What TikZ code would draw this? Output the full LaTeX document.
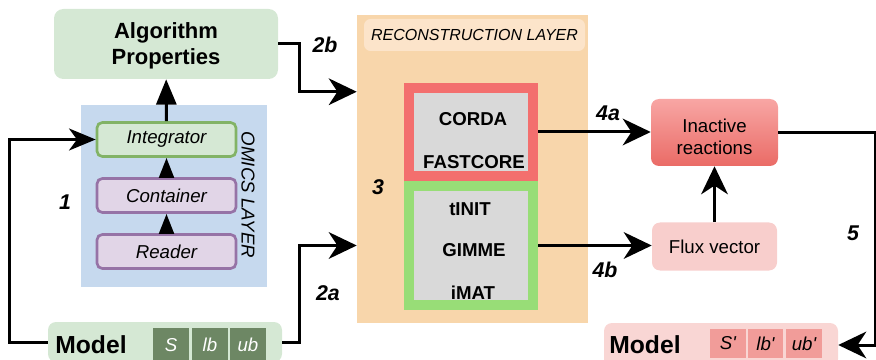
\documentclass[tikz,border=0pt]{standalone}
\usepackage{fontspec}
\setmainfont{Liberation Sans}
\usepackage{tikz}
\usetikzlibrary{arrows.meta,positioning}
\definecolor{greenfill}{HTML}{D5E8D4}
\definecolor{greenline}{HTML}{82B366}
\definecolor{purplefill}{HTML}{E1D5E7}
\definecolor{purpleline}{HTML}{9673A6}
\definecolor{omicsfill}{HTML}{C6D9EE}
\definecolor{reconfill}{HTML}{F8D6AB}
\definecolor{headfill}{HTML}{FCE4CA}
\definecolor{redline}{HTML}{F36F6E}
\definecolor{limeline}{HTML}{98DD77}
\definecolor{algogray}{HTML}{D9D9D9}
\definecolor{pinkfill}{HTML}{F8CECC}
\definecolor{pinktop}{HTML}{F8A6A4}
\definecolor{pinkbottom}{HTML}{EA6B66}
\definecolor{modelpink}{HTML}{F9D6D4}
\definecolor{cellpink}{HTML}{F19C99}
\definecolor{cellgreen}{HTML}{6D8764}
\tikzset{
	big arrow/.style = {-{Stealth[length=21pt,width=20pt,inset=6.5pt]}, line width=2.25pt},
	small arrow/.style = {-{Triangle[length=15pt,width=11pt]}, line width=2.25pt},
	stage/.style = {font=\fontsize{16}{16}\selectfont\bfseries\itshape},
	algo name/.style = {font=\fontsize{14}{16}\selectfont\bfseries}
}

\begin{document}
\begin{tikzpicture}[x=0.75pt, y=-0.75pt]
    \tikzset{omics node/.style={draw, line width=2pt, rounded corners=4pt, inner sep=0pt, minimum width=104.25pt, minimum height=25.5pt, font=\fontsize{14}{17}\selectfont\itshape}}
    \tikzset{cell/.style={inner sep=0pt, minimum width=27pt, font=\fontsize{14}{16}\selectfont\itshape}}
    \clip (0,0) rectangle (876,360);
    % Layers
    \node (omics) [fill=omicsfill, inner sep=0pt, minimum width=139.5pt, minimum height=136.5pt] at (174,196) {};
    \node (omics-title) [rotate=-90, font=\fontsize{14}{16}\selectfont\itshape] at (248,195) {OMICS LAYER};
    \node (recon) [fill=reconfill, inner sep=0pt, minimum width=173.25pt, minimum height=231pt] at (472.5,169) {};
    \node (recon-title) [fill=headfill, rounded corners=5pt, inner sep=0pt, minimum width=165.75pt, minimum height=24pt, font=\fontsize{12}{14}\selectfont\itshape] at (474.5,35) {RECONSTRUCTION LAYER};

    % Nodes
    \node (algo) [fill=greenfill, rounded corners=7pt, inner sep=0pt, minimum width=168pt, minimum height=52.5pt, align=center, font=\fontsize{16.5}{19}\selectfont\bfseries] at (166,44) {Algorithm\rule{0pt}{14.5pt}\\Properties};
    \node (integrator) [omics node, draw=greenline, fill=greenfill] at (166.5,139.5) {Integrator};
    \node (container) [omics node, draw=purpleline, fill=purplefill, below of=integrator, node distance=42pt] {Container};
    \node (reader) [omics node, draw=purpleline, fill=purplefill, below of=container, node distance=42pt] {Reader};

    \node (modelL) [fill=greenfill, rounded corners=6pt, inner sep=0pt, minimum width=175.5pt, minimum height=30pt] at (165,342) {};
    \node (modelL-text) [font=\fontsize{18.5}{20}\selectfont\bfseries] at (91,345) {Model};
    \node (s) [cell, fill=cellgreen, text=white, minimum height=25.5pt] at (171,345) {S};
    \node (lb) [cell, fill=cellgreen, text=white, minimum height=25.5pt] at (210,345) {lb};
    \node (ub) [cell, fill=cellgreen, text=white, minimum height=25.5pt] at (248,345) {ub};

    \node (redbox) [draw=redline, line width=7.5pt, fill=algogray, inner sep=0pt, minimum width=93pt, minimum height=66pt] at (471,132) {};
    \node (greenbox) [draw=limeline, line width=7.5pt, fill=algogray, inner sep=0pt, minimum width=93pt, minimum height=89.25pt] at (471,245.5) {};
    \node (corda) [algo name] at (473,119) {CORDA};
    \node (fastcore) [algo name] at (474,162) {FASTCORE};
    \node (tinit) [algo name] at (470,209) {tINIT};
    \node (gimme) [algo name] at (474,250) {GIMME};
    \node (imat) [algo name] at (473,293) {iMAT};

    \node (inactive) [top color=pinktop, bottom color=pinkbottom, rounded corners=6pt, inner sep=0pt, minimum width=95.25pt, minimum height=50.25pt, align=center, font=\fontsize{14}{16.5}\selectfont] at (714.5,132.5) {Inactive\rule{0pt}{16.5pt}\\reactions};
    \node (flux) [fill=pinkfill, rounded corners=6pt, inner sep=0pt, minimum width=93.75pt, minimum height=36pt, font=\fontsize{14}{16}\selectfont, below of=inactive, node distance=85.5pt] {Flux vector};

    \node (modelR) [fill=modelpink, rounded corners=6pt, inner sep=0pt, minimum width=175.5pt, minimum height=33pt] at (721,345) {};
    \node (modelR-text) [font=\fontsize{18.5}{20}\selectfont\bfseries] at (645,345) {Model};
    \node (s-new) [cell, fill=cellpink, minimum height=21.75pt] at (728,343.5) {S\textquotesingle};
    \node (lb-new) [cell, fill=cellpink, minimum height=21.75pt, minimum width=26.25pt] at (765.5,343.5) {lb\textquotesingle};
    \node (ub-new) [cell, fill=cellpink, minimum height=21.75pt] at (804,343.5) {ub\textquotesingle};

    % Stages
    \node (stage1) [stage] at (65,202) {1};
    \node (stage2a) [stage] at (328,293) {2a};
    \node (stage2b) [stage] at (325,45) {2b};
    \node (stage3) [stage] at (378,187) {3};
    \node (stage4a) [stage] at (608,113) {4a};
    \node (stage4b) [stage] at (605,270) {4b};
    \node (stage5) [stage] at (853,233) {5};

    % Arrows
    \draw [small arrow] (reader) to (container);
    \draw [small arrow] (container) to (integrator);
    \draw [-{Triangle[length=19pt,width=15pt]}, line width=2.25pt] (integrator) to (algo);
    \draw [big arrow, -{Stealth[length=20pt,width=16.5pt,inset=6pt]}] (modelL.west) -- ++(-38,0) |- (integrator.west);
    \draw [big arrow] (modelL.east) -- ++(17,0) |- (greenbox -| recon.west);
    \draw [big arrow] (algo.east) -- ++(21,0) |- ([yshift=-57.75pt]recon.north west);
    \draw [big arrow] (redbox.east) -- (redbox.east -| inactive.west);
    \draw [big arrow] (greenbox.east) -- (greenbox.east -| flux.west);
    \draw [big arrow] (flux) to (inactive);
    \draw [big arrow] (inactive.east) -- ++(97,0) |- (modelR.east);

\end{tikzpicture}
\end{document}
